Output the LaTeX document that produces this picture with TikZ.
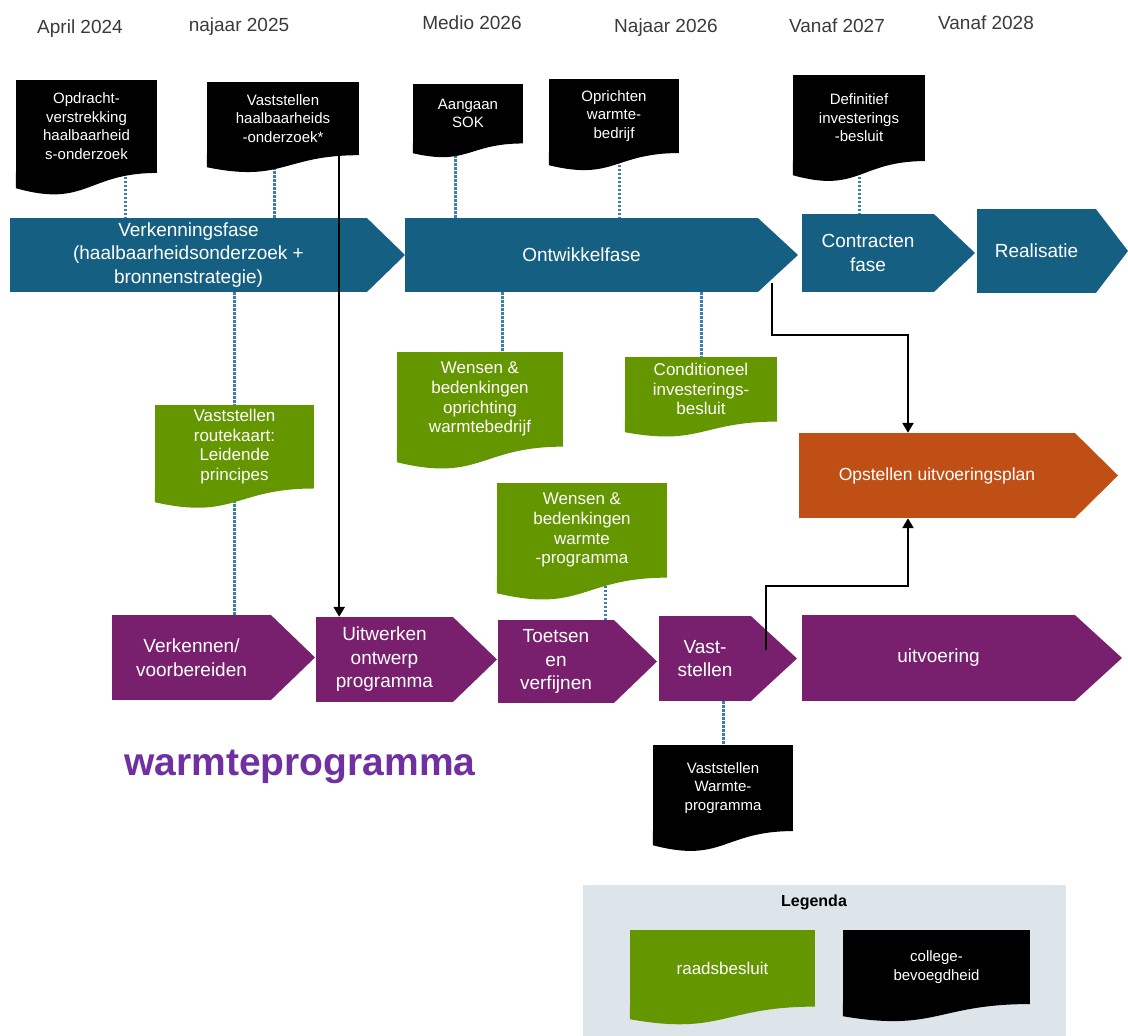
\documentclass[tikz,border=0pt]{standalone}
\usepackage{fontspec}
\setmainfont{Liberation Sans}
\usetikzlibrary{arrows.meta,calc}
\definecolor{Fase}{HTML}{156082}
\definecolor{Raad}{HTML}{649600}
\definecolor{Prog}{HTML}{78206E}
\definecolor{Uitv}{HTML}{C04F15}
\definecolor{Stip}{HTML}{3A7FB0}
\definecolor{Titel}{HTML}{7030A0}
\definecolor{Datum}{HTML}{3A3A3A}
\definecolor{Legendagrijs}{HTML}{DDE5EB}
\pgfdeclarelayer{achter}
\pgfsetlayers{achter,main}
% fase-pijl: naam, links, boven, hoek, onder, punt, stijl, tekst
\newcommand{\Pijl}[8]{%
  \node[pijlvak,#7,minimum width={(#4-#2)*1pt},minimum height={(#5-#3)*1pt}] (#1) at ({(#2+#4)/2},{(#3+#5)/2}) {#8};%
  \fill[#7] ([xshift=-0.5pt]#1.north east) -- (#6,{(#3+#5)/2}) -- ([xshift=-0.5pt]#1.south east) -- cycle;%
}
% besluit-document: naam, links, boven, rechts, onder (links), stijl, tekst
\newcommand{\Doc}[7]{%
  \pgfmathsetmacro{\DocH}{(#5-#3)/0.934}%
  \node[docvak,#6,minimum width={(#4-#2)*1pt},minimum height={0.802*\DocH*1pt}] (#1) at ({(#2+#4)/2},{#3+0.401*\DocH}) {#7};%
  \fill[#6] ([yshift=0.5pt]#1.south east) -- (#1.south east) .. controls (#1.south) and ([yshift={-0.3055*\DocH*1pt}]#1.south) .. ([yshift={-0.132*\DocH*1pt}]#1.south west) -- ([yshift=0.5pt]#1.south west) -- cycle;%
}

\begin{document}
\begin{tikzpicture}[x=1pt,y=-1pt,
  pijlvak/.style={inner sep=0pt,align=center,text=white,font=\fontsize{19}{23.5}\selectfont},
  fasevak/.style={fill=Fase},
  progvak/.style={fill=Prog},
  uitvvak/.style={fill=Uitv,font=\fontsize{17.5}{21}\selectfont},
  docvak/.style={inner sep=0pt,align=center,text=white},
  zwartdoc/.style={fill=black,font=\fontsize{15}{18.5}\selectfont},
  groendoc/.style={fill=Raad,font=\fontsize{17}{19.7}\selectfont},
  datum/.style={text=Datum,font=\fontsize{19}{22}\selectfont},
  stip/.style={Stip,line width=3pt,dash pattern=on 2.4pt off 1.6pt},
  zwartpijl/.style={line width=2.4pt,-{Triangle[length=10pt,width=11pt]}}]
\useasboundingbox (0,0) rectangle (1128,1036);

% tijdlijn
\foreach \x/\y/\t [count=\i] in {80/29/April 2024,239/27/najaar 2025,472/23/Medio 2026,666/28/Najaar 2026,837/26/Vanaf 2027,986/23/Vanaf 2028}
  \node[datum] (datum\i) at (\x,\y) {\t};

% fasen warmtebedrijf
\Pijl{verk}{10}{218}{367}{292}{405}{fasevak}{Verkenningsfase\\(haalbaarheidsonderzoek +\\bronnenstrategie)}
\Pijl{ontw}{405}{218}{758}{292}{798}{fasevak}{Ontwikkelfase}
\Pijl{contr}{802}{214}{934}{292}{975}{fasevak}{Contracten\\fase}
\Pijl{real}{977}{209}{1096}{293}{1128}{fasevak}{Realisatie}
\Pijl{opst}{799}{433}{1075}{518}{1118}{uitvvak}{Opstellen uitvoeringsplan}

% warmteprogramma
\Pijl{verken}{112}{615}{271}{700}{315}{progvak}{Verkennen/\\voorbereiden}
\Pijl{uitw}{316}{617}{453}{702}{497}{progvak}{Uitwerken\\ontwerp\\programma}
\Pijl{toets}{498}{620}{614}{703}{657}{progvak}{Toetsen\\en\\verfijnen}
\Pijl{vastst}{659}{616}{751}{701}{797}{progvak}{Vast-\\stellen}
\Pijl{uitv}{802}{615}{1075}{701}{1122}{progvak}{uitvoering}
\node[font=\fontsize{39}{44}\selectfont\bfseries,text=Titel] (titel) at (300,767) {warmteprogramma};

% collegebesluiten
\Doc{opdr}{16}{80}{157}{188}{zwartdoc}{Opdracht-\\verstrekking\\haalbaarheid\\s-onderzoek}
\Doc{vasthaal}{207}{82}{359}{167}{zwartdoc}{Vaststellen\\haalbaarheids\\-onderzoek*}
\Doc{sok}{413}{84}{523}{153}{zwartdoc}{Aangaan\\SOK}
\Doc{opricht}{549}{79}{679}{165}{zwartdoc}{Oprichten\\warmte-\\bedrijf}
\Doc{definitief}{793}{75}{925}{175}{zwartdoc}{Definitief\\investerings\\-besluit}
\Doc{vastwarmte}{653}{745}{793}{845}{zwartdoc}{Vaststellen\\Warmte-\\programma}

% raadsbesluiten
\Doc{routekaart}{155}{405}{314}{502}{groendoc}{Vaststellen\\routekaart:\\Leidende\\principes}
\Doc{wensopr}{397}{352}{563}{462}{groendoc}{Wensen \&\\bedenkingen\\oprichting\\warmtebedrijf}
\Doc{condit}{625}{357}{777}{432}{groendoc}{Conditioneel\\investerings-\\besluit}
\Doc{wensprog}{497}{483}{667}{593}{groendoc}{Wensen \&\\bedenkingen\\warmte\\-programma}

% legenda
\node[fill=Legendagrijs,minimum width=483pt,minimum height=151pt,inner sep=0pt] (legenda) at (824.5,960.5) {};
\node[font=\fontsize{16}{19}\selectfont\bfseries] (legkop) at (814,902) {Legenda};
\Doc{raads}{630}{930}{815}{1019}{groendoc}{raadsbesluit}
\Doc{college}{843}{930}{1030}{1016}{zwartdoc}{college-\\bevoegdheid}

% stippellijnen
\begin{pgfonlayer}{achter}
\draw[stip] ([xshift=38.5pt]opdr.south) -- ([xshift=38.5pt]opdr.south |- verk.north);
\draw[stip] ([xshift=-9pt]vasthaal.south) -- ([xshift=-9pt]vasthaal.south |- verk.north);
\draw[stip] ([xshift=-13pt]sok.south) -- ([xshift=-13pt]sok.south |- ontw.north);
\draw[stip] ([xshift=5pt]opricht.south) -- ([xshift=5pt]opricht.south |- ontw.north);
\draw[stip] (definitief.south) -- (definitief.south |- contr.north);
\draw[stip] (routekaart.north |- verk.south) -- (routekaart.north |- verken.north);
\draw[stip] ([xshift=22pt]wensopr.north |- ontw.south) -- ([xshift=22pt]wensopr.north);
\draw[stip] (condit.north |- ontw.south) -- (condit.north);
\draw[stip] ([xshift=23pt]wensprog.south) -- ([xshift=23pt]wensprog.south |- toets.north);
\draw[stip] (vastwarmte.north |- vastst.south) -- (vastwarmte.north);
\end{pgfonlayer}

% pijlen
\coordinate (ontwuit) at (772,283);
\coordinate (vastuit) at (766,650);
\draw[zwartpijl] ([xshift=-20pt]vasthaal.south east) -- ([xshift=-20pt]vasthaal.south east |- uitw.north);
\draw[zwartpijl] (ontwuit) |- ([xshift=-29pt,yshift=98pt]opst.north) -- ([xshift=-29pt]opst.north);
\draw[zwartpijl] (vastuit) |- ([xshift=-29pt,yshift=-68pt]opst.south) -- ([xshift=-29pt]opst.south);
\end{tikzpicture}
\end{document}
